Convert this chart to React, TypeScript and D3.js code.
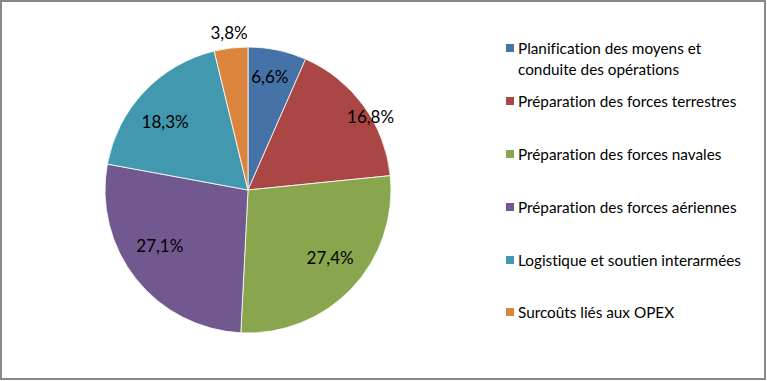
import React from "react";
import * as d3 from "d3";

const categories = [
  ["Planification des moyens et", "conduite des opérations"],
  ["Préparation des forces terrestres"],
  ["Préparation des forces navales"],
  ["Préparation des forces aériennes"],
  ["Logistique et soutien interarmées"],
  ["Surcoûts liés aux OPEX"],
];
const values = [6.6, 16.8, 27.4, 27.1, 18.3, 3.8];
const valueLabels = ["6,6%", "16,8%", "27,4%", "27,1%", "18,3%", "3,8%"];
const colors = ["#4572A7", "#AA4643", "#89A54E", "#71588F", "#4198AF", "#DB843D"];
const labelRadiusFactor = [0.81, 1.0, 0.745, 0.73, 0.75, 1.11];
const labelAngleNudge = [-1, 5, -4, 6, -4, 0];

const W = 767;
const H = 381;
const FONT = "Lato, 'Open Sans', sans-serif";

export default function App() {
  const cx = 248;
  const cy = 190;
  const R = 143;
  const pie = d3.pie<number>().sort(null).value((d) => d);
  const arcs = pie(values);
  const arcGen = d3.arc<d3.PieArcDatum<number>>().innerRadius(0).outerRadius(R);

  const legendX = 506;
  const legendY = [48, 101, 154, 207, 260, 312];

  return (
    <svg
      width={W}
      height={H}
      style={{ position: "absolute", left: 0, top: 0, display: "block", fontVariantLigatures: "none" }}
    >
      <rect x={0} y={0} width={W} height={H} fill="#fff" />
      <rect x={1} y={1} width={W - 3} height={H - 3} fill="none" stroke="#888" strokeWidth={2} />
      <g transform={`translate(${cx},${cy})`}>
        {arcs.map((a, i) => (
          <path key={i} d={arcGen(a) || ""} fill={colors[i]} stroke="#fff" strokeWidth={0.8} />
        ))}
        {arcs.map((a, i) => {
          const mid = (a.startAngle + a.endAngle) / 2 + (labelAngleNudge[i] * Math.PI) / 180;
          const r = R * labelRadiusFactor[i];
          const x = Math.sin(mid) * r;
          const y = -Math.cos(mid) * r;
          return (
            <text
              key={i}
              x={x}
              y={y}
              textAnchor="middle"
              dominantBaseline="central"
              fontFamily={FONT}
              fontSize={17}
              fill="#000"
            >
              {valueLabels[i]}
            </text>
          );
        })}
      </g>
      {categories.map((lines, i) => (
        <g key={i}>
          <rect x={legendX} y={legendY[i] - 4} width={8} height={8} fill={colors[i]} />
          {lines.map((t, j) => (
            <text
              key={j}
              x={legendX + 12}
              y={legendY[i] + j * 21}
              dominantBaseline="central"
              fontFamily={FONT}
              fontSize={15.3}
              fill="#000"
            >
              {t}
            </text>
          ))}
        </g>
      ))}
    </svg>
  );
}
